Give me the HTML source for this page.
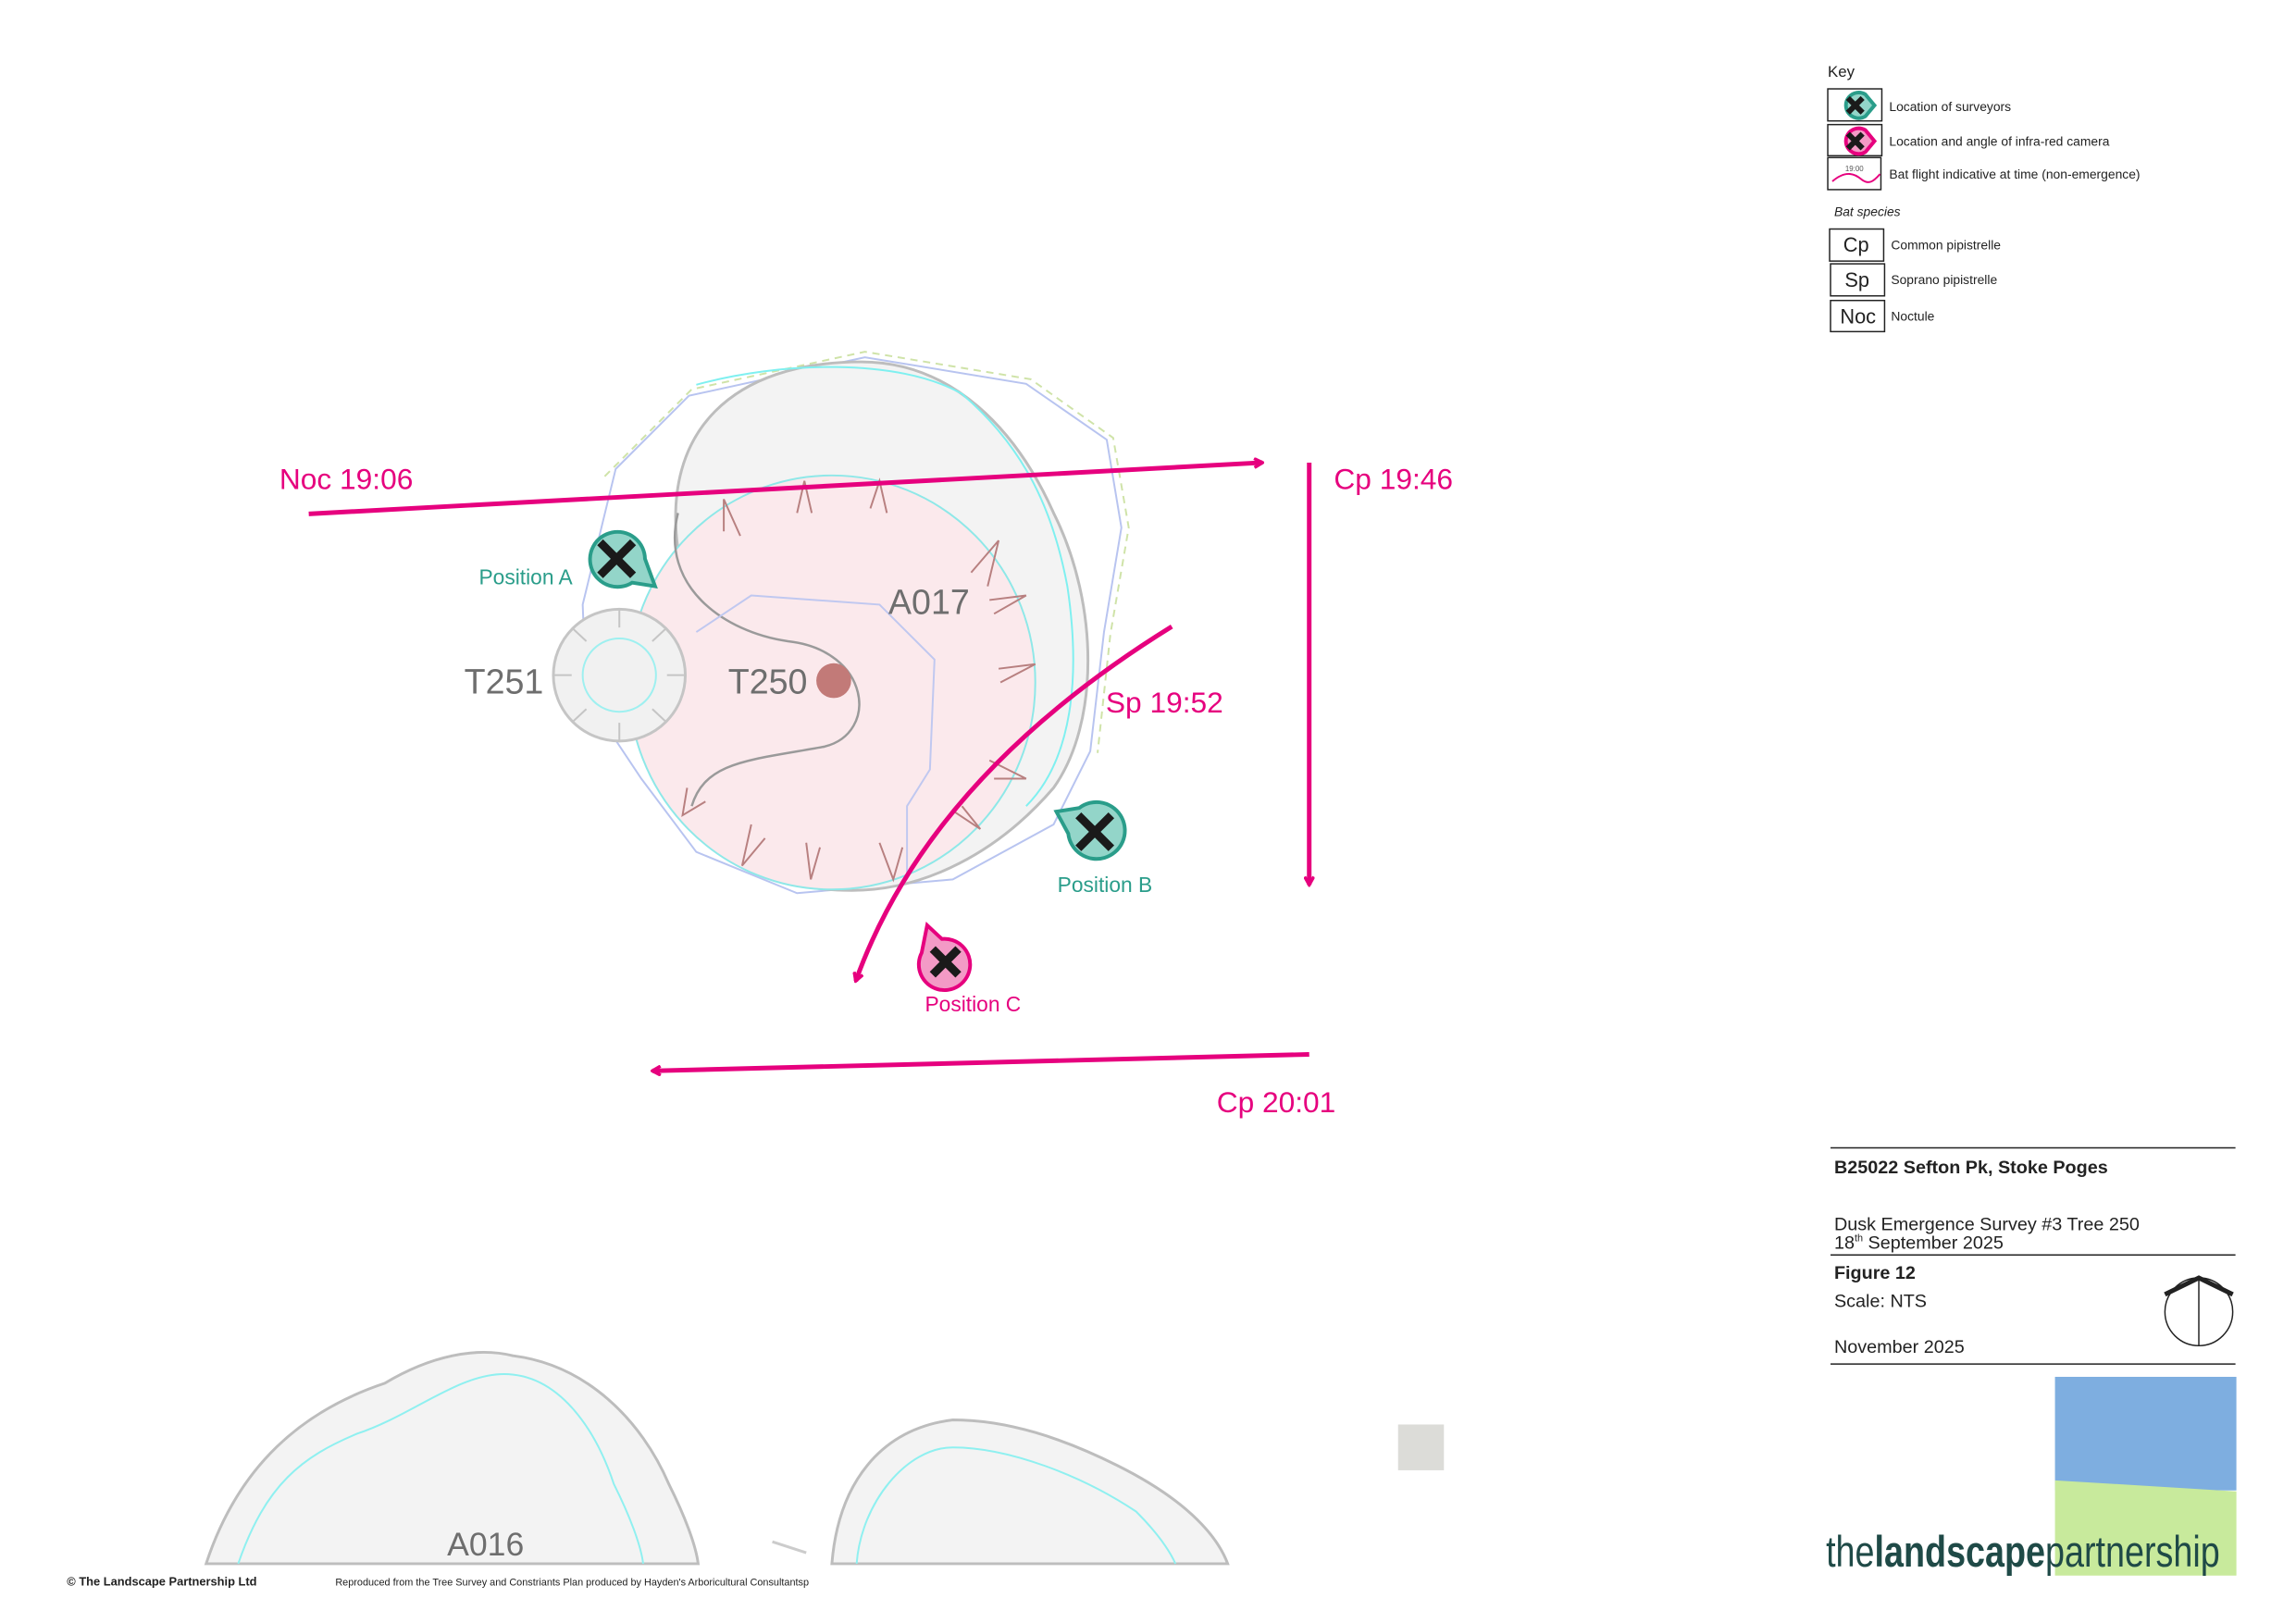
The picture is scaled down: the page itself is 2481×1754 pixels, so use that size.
<!DOCTYPE html>
<html><head><meta charset="utf-8"><style>
html,body{margin:0;padding:0;background:#fff}
svg{display:block}
text{font-family:"Liberation Sans",sans-serif}
</style></head><body>
<svg width="2481" height="1754" viewBox="0 0 2481 1754" xmlns="http://www.w3.org/2000/svg">
<defs>
<marker id="ah" markerWidth="12" markerHeight="12" refX="10" refY="6" orient="auto" markerUnits="userSpaceOnUse">
<polyline points="1,1 10,6 1,11" fill="none" stroke="#e6007e" stroke-width="3.5"/>
</marker>
</defs>
<rect width="2481" height="1754" fill="#fff"/>
<g transform="scale(0.99)">
<path d="M672,512 L752,432 L944,390 L1120,419 L1208,480 L1224,576 L1205,690 L1190,820 L1150,900 L1040,960 L870,975 L760,930 L700,850 L640,760 L636,660 Z" fill="none" stroke="#b8c4f0" stroke-width="2"/>
<path d="M660,520 L755,425 L944,384 L1125,414 L1215,478 L1232,576 L1212,692 L1198,822" fill="none" stroke="#cfe3a8" stroke-width="2" stroke-dasharray="8,6"/>
<path d="M740,600 C722,470 800,395 940,395 C1040,395 1110,470 1150,560 C1200,660 1200,790 1150,860 C1090,930 1010,972 930,972 C800,972 720,900 700,800 Z" fill="#f3f3f3" stroke="#bdbdbd" stroke-width="3"/>
<path d="M760,420 C850,395 980,390 1050,430 C1120,490 1150,560 1165,640 C1180,740 1170,830 1120,880" fill="none" stroke="#7ff0f0" stroke-width="2"/>
<ellipse cx="908" cy="745" rx="222" ry="226" fill="#fbe9ec" stroke="#8ee8e8" stroke-width="2"/>
<path d="M740,560 C720,640 790,690 860,700 C950,710 960,800 900,815 C820,830 770,830 755,880" fill="none" stroke="#9a9a9a" stroke-width="2.5"/>
<path d="M760,690 L820,650 L960,660 L1020,720 L1015,840 L990,880 L990,960" fill="none" stroke="#c0c8f0" stroke-width="2"/>
<g stroke="#b88080" stroke-width="2" fill="none">
<polyline points="870,560 878,525 886,560"/><polyline points="950,555 960,525 968,560"/>
<polyline points="790,580 790,545 808,585"/><polyline points="1060,625 1090,590 1078,640"/>
<polyline points="1080,655 1120,650 1085,670"/><polyline points="1090,730 1130,725 1092,745"/>
<polyline points="1080,830 1120,850 1085,850"/><polyline points="1050,880 1070,905 1040,885"/>
<polyline points="960,920 975,960 985,925"/><polyline points="880,920 885,960 895,925"/>
<polyline points="820,900 810,945 835,915"/><polyline points="750,860 745,890 770,875"/>
</g>
<circle cx="676" cy="737" r="72" fill="#f1f1f1" stroke="#c5c5c5" stroke-width="3"/>
<g stroke="#c5c5c5" stroke-width="2" fill="none">
<polyline points="676,665 676,685"/><polyline points="676,809 676,789"/><polyline points="604,737 624,737"/><polyline points="748,737 728,737"/>
<polyline points="625,686 640,700"/><polyline points="727,686 712,700"/><polyline points="625,788 640,774"/><polyline points="727,788 712,774"/>
</g>
<circle cx="676" cy="737" r="40" fill="none" stroke="#9ef0f0" stroke-width="2"/>
<circle cx="910" cy="743" r="19" fill="#c27a78"/>
<text x="1014" y="670" font-size="38" fill="#6e6e6e" text-anchor="middle">A017</text>
<text x="550" y="757" font-size="38" fill="#6e6e6e" text-anchor="middle">T251</text>
<text x="838" y="757" font-size="38" fill="#6e6e6e" text-anchor="middle">T250</text>

<path d="M225,1707 C260,1600 330,1540 420,1510 C470,1480 520,1470 560,1480 C640,1490 700,1550 730,1620 C750,1660 760,1690 762,1707 Z" fill="#f3f3f3" stroke="#bdbdbd" stroke-width="3"/>
<path d="M260,1707 C290,1620 330,1590 390,1565 C450,1545 500,1500 550,1500 C610,1500 650,1560 670,1620 C690,1660 700,1690 702,1707" fill="none" stroke="#8ff0f0" stroke-width="2"/>
<text x="530" y="1698" font-size="36" fill="#6e6e6e" text-anchor="middle">A016</text>
<path d="M908,1707 C915,1620 960,1560 1040,1550 C1100,1550 1160,1570 1220,1600 C1300,1640 1330,1680 1340,1707 Z" fill="#f3f3f3" stroke="#bdbdbd" stroke-width="3"/>
<path d="M935,1707 C940,1640 990,1580 1040,1580 C1100,1580 1180,1610 1240,1650 C1270,1680 1280,1700 1283,1707" fill="none" stroke="#8ff0f0" stroke-width="2"/>
<line x1="843" y1="1683" x2="880" y2="1695" stroke="#ccc" stroke-width="3"/>
<rect x="1526" y="1555" width="50" height="50" fill="#dcdcd8"/>

<g stroke="#e6007e" stroke-width="5" fill="none" marker-end="url(#ah)">
<line x1="337" y1="561" x2="1378" y2="505"/>
<line x1="1429" y1="505" x2="1429" y2="966"/>
<path d="M1279,684 Q1014,848 934,1071"/>
<line x1="1429" y1="1151" x2="712" y2="1169"/>
</g>
<g font-size="32" fill="#e6007e">
<text x="305" y="534">Noc 19:06</text>
<text x="1456" y="534">Cp 19:46</text>
<text x="1207" y="778">Sp 19:52</text>
<text x="1328" y="1214">Cp 20:01</text>
</g>

<g stroke-width="4">
<path d="M715,640 L690,636 A30,30 0 1 1 704,610 Z" fill="#93d5c9" stroke="#2a9d8a"/>
<path d="M1153,886 L1178,882 A31,31 0 1 1 1166,910 Z" fill="#93d5c9" stroke="#2a9d8a"/>
<path d="M1012,1010 L1028,1025 A28,28 0 1 1 1006,1040 Z" fill="#f39ac6" stroke="#e6007e"/>
</g>
<g stroke="#1a1a1a" stroke-width="9">
<line x1="655" y1="592" x2="691" y2="628"/><line x1="691" y1="592" x2="655" y2="628"/>
<line x1="1177" y1="890" x2="1213" y2="926"/><line x1="1213" y1="890" x2="1177" y2="926"/>
<line x1="1018" y1="1036" x2="1046" y2="1064"/><line x1="1046" y1="1036" x2="1018" y2="1064"/>
</g>
<text x="625" y="638" font-size="23" fill="#2a9d8a" text-anchor="end">Position A</text>
<text x="1206" y="974" font-size="23" fill="#2a9d8a" text-anchor="middle">Position B</text>
<text x="1062" y="1104" font-size="23" fill="#e6007e" text-anchor="middle">Position C</text>

<text x="1995" y="84" font-size="17" fill="#222">Key</text>
<g fill="none" stroke="#222" stroke-width="1.5">
<rect x="1995" y="97" width="59" height="35"/><rect x="1995" y="136" width="59" height="34"/><rect x="1995" y="172" width="58" height="35"/>
<rect x="1997" y="250" width="59" height="35"/><rect x="1998" y="288" width="59" height="35"/><rect x="1998" y="328" width="59" height="34"/>
</g>
<path d="M2046,115 L2036,103 A14,14 0 1 0 2036,127 Z" fill="#93d5c9" stroke="#2a9d8a" stroke-width="4"/>
<path d="M2046,154 L2036,142 A14,14 0 1 0 2036,166 Z" fill="#f39ac6" stroke="#e6007e" stroke-width="4"/>
<g stroke="#1a1a1a" stroke-width="6"><line x1="2017" y1="107" x2="2033" y2="123"/><line x1="2033" y1="107" x2="2017" y2="123"/><line x1="2017" y1="146" x2="2033" y2="162"/><line x1="2033" y1="146" x2="2017" y2="162"/></g>
<text x="2024" y="187" font-size="8" fill="#555" text-anchor="middle">19:00</text>
<path d="M2000,198 C2015,185 2025,190 2032,196 C2040,202 2045,198 2052,190" fill="none" stroke="#e6007e" stroke-width="2"/>
<g font-size="14" fill="#222">
<text x="2062" y="121">Location of surveyors</text>
<text x="2062" y="159">Location and angle of infra-red camera</text>
<text x="2062" y="195">Bat flight indicative at time (non-emergence)</text>
<text x="2002" y="236" font-style="italic">Bat species</text>
<text x="2064" y="272">Common pipistrelle</text>
<text x="2064" y="310">Soprano pipistrelle</text>
<text x="2064" y="350">Noctule</text>
</g>
<g font-size="22" fill="#222" text-anchor="middle">
<text x="2026" y="275">Cp</text><text x="2027" y="313">Sp</text><text x="2028" y="353">Noc</text>
</g>

<g stroke="#222" stroke-width="1.5">
<line x1="1998" y1="1253" x2="2440" y2="1253"/><line x1="1998" y1="1370" x2="2440" y2="1370"/><line x1="1998" y1="1489" x2="2440" y2="1489"/>
</g>
<text x="2002" y="1281" font-size="20" font-weight="bold" fill="#222">B25022 Sefton Pk, Stoke Poges</text>
<text x="2002" y="1343" font-size="20" fill="#222">Dusk Emergence Survey #3 Tree 250</text>
<text x="2002" y="1363" font-size="20" fill="#222">18<tspan font-size="11" dy="-8">th</tspan><tspan dy="8"> September 2025</tspan></text>
<text x="2002" y="1396" font-size="20" font-weight="bold" fill="#222">Figure 12</text>
<text x="2002" y="1427" font-size="20" fill="#222">Scale: NTS</text>
<text x="2002" y="1477" font-size="20" fill="#222">November 2025</text>
<circle cx="2400" cy="1432" r="37" fill="none" stroke="#222" stroke-width="1.5"/>
<line x1="2400" y1="1395" x2="2400" y2="1469" stroke="#222" stroke-width="1.5"/>
<polyline points="2363,1413 2400,1395 2437,1413" fill="none" stroke="#222" stroke-width="5"/>

<rect x="2243" y="1503" width="198" height="124" fill="#7eaee0"/>
<path d="M2243,1616 L2441,1628 L2441,1720 L2243,1720 Z" fill="#c8ea9c"/>
<text x="1993" y="1710" font-size="48" fill="#1f4a47" textLength="430" lengthAdjust="spacingAndGlyphs">the<tspan font-weight="bold">landscape</tspan>partnership</text>

<text x="73" y="1731" font-size="13" font-weight="bold" fill="#222">© The Landscape Partnership Ltd</text>
<text x="366" y="1731" font-size="11" fill="#222">Reproduced from the Tree Survey and Constriants Plan produced by Hayden's Arboricultural Consultantsp</text>
</g>
</svg>
</body></html>
